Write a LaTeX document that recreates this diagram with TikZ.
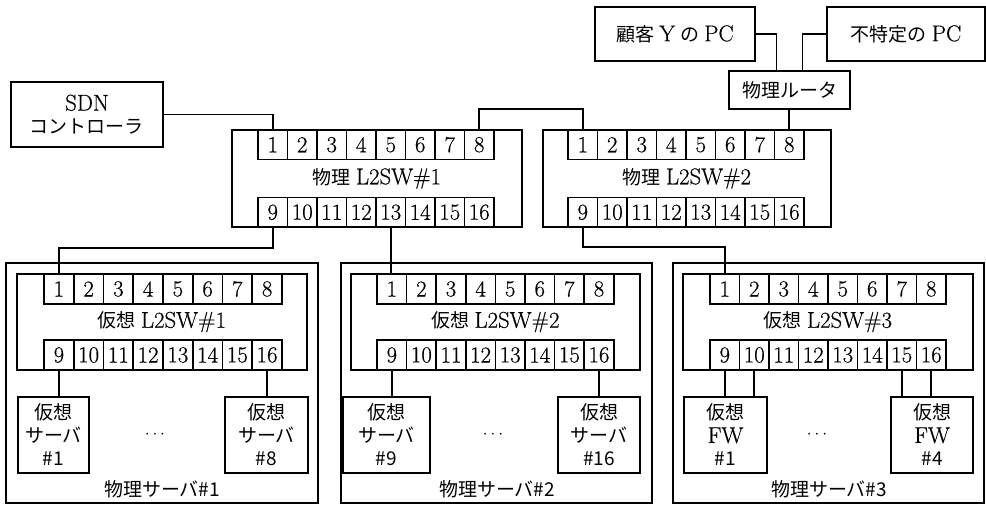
\documentclass[tikz,border=0pt]{standalone}
\usepackage{fontspec}
\setmainfont{Latin Modern Roman}[Scale=1.2, FakeBold=0.5]
\newfontfamily\cjk{Noto Sans CJK JP}
\newcommand\jp[1]{{\cjk #1}}
\newcommand\jsp{\hspace{0.22em}}
\tikzset{
  ln/.style={line width=1.6pt},
  box/.style={draw, line width=1.6pt, inner sep=0pt, outer sep=0pt, anchor=north west},
  port/.style={box, font=\fontsize{19}{19}\selectfont},
  lbl/.style={inner sep=0pt, font=\fontsize{19}{23}\selectfont, align=center},
  tbox/.style={box, lbl, inner sep=0pt},
}
% #1 name, #2 x, #3 y, #4 w, #5 h, #6 port x0, #7 port w, #8 port h, #9 label
\newcommand\drawswitch[9]{%
  \node[box, minimum width=#4pt, minimum height=#5pt] (#1) at (#2,#3) {};
  \node[lbl] (#1lbl) at (#1.center) {#9};
  \foreach \i in {1,...,8} {
    \node[port, minimum width=#7pt, minimum height=#8pt] (#1p\i) at ({#6+(\i-1)*#7},#3) {\i};
  }
  \foreach \i [evaluate=\i as \k using int(\i+8)] in {1,...,8} {
    \node[port, anchor=south west, minimum width=#7pt, minimum height=#8pt] (#1p\k) at ({#6+(\i-1)*#7},{#3+#5}) {\k};
  }
}
\begin{document}
\begin{tikzpicture}[x=1pt,y=-1pt]
\useasboundingbox (0,0) rectangle (986,505);

% top boxes
\node[tbox, minimum width=152pt, minimum height=65pt] (sdn) at (11,82) {SDN\\\jp{コントローラ}};
\node[tbox, minimum width=160pt, minimum height=54pt] (ypc) at (595,7) {\jp{顧客}\jsp Y\jsp\jp{の}\jsp PC};
\node[tbox, minimum width=158pt, minimum height=54pt] (upc) at (827,7) {\jp{不特定の}\jsp PC};
\node[tbox, minimum width=121pt, minimum height=38pt] (router) at (729,71) {\jp{物理ルータ}};

% physical switches
\drawswitch{swa}{232}{130}{290}{97}{258}{29.5}{29.5}{\jp{物理}\jsp L2SW\#1}
\drawswitch{swb}{543}{130}{288}{97}{568}{29.5}{29.5}{\jp{物理}\jsp L2SW\#2}

% physical servers
\node[box, minimum width=312pt, minimum height=240pt] (psa) at (6,263) {};
\node[box, minimum width=311pt, minimum height=240pt] (psb) at (341,263) {};
\node[box, minimum width=311pt, minimum height=240pt] (psc) at (673,263) {};
\node[lbl] (psalbl) at (162,489) {\jp{物理サーバ\#1}};
\node[lbl] (psblbl) at (497,489) {\jp{物理サーバ\#2}};
\node[lbl] (psclbl) at (829,489) {\jp{物理サーバ\#3}};

% virtual switches
\drawswitch{vsa}{17}{274}{290}{96}{44}{29.75}{30}{\jp{仮想}\jsp L2SW\#1}
\drawswitch{vsb}{351}{274}{289}{96}{377}{29.6}{30}{\jp{仮想}\jsp L2SW\#2}
\drawswitch{vsc}{683}{274}{290}{96}{710}{29.5}{30}{\jp{仮想}\jsp L2SW\#3}

% virtual servers / FWs
\node[tbox, minimum width=71pt, minimum height=76pt] (vs1) at (18,397) {\jp{仮想}\\\jp{サーバ}\\\jp{\#1}};
\node[tbox, minimum width=83pt, minimum height=76pt] (vs8) at (225,397) {\jp{仮想}\\\jp{サーバ}\\\jp{\#8}};
\node[tbox, minimum width=87pt, minimum height=76pt] (vs9) at (343,397) {\jp{仮想}\\\jp{サーバ}\\\jp{\#9}};
\node[tbox, minimum width=82pt, minimum height=76pt] (vs16) at (558,397) {\jp{仮想}\\\jp{サーバ}\\\jp{\#16}};
\node[tbox, minimum width=83pt, minimum height=76pt] (fw1) at (684,397) {\jp{仮想}\\FW\\\jp{\#1}};
\node[tbox, minimum width=82pt, minimum height=76pt] (fw4) at (891,397) {\jp{仮想}\\FW\\\jp{\#4}};

\node[lbl] (dotsa) at (155,435) {$\cdots$};
\node[lbl] (dotsb) at (493,435) {$\cdots$};
\node[lbl] (dotsc) at (817,435) {$\cdots$};

% connectors
\draw[ln] (sdn.east) -| (swap1.north);
\draw[ln] (swap8.north) -- ++(0,-21) -| (swbp1.north);
\draw[ln] (swbp8.north) -- (swbp8.north |- router.south);
\draw[ln] (ypc.east) -| ([xshift=-13pt]router.north);
\draw[ln] (upc.west) -| ([xshift=13pt]router.north);
\draw[ln] (swap9.south) -- ++(0,21) -| (vsap1.north);
\draw[ln] (swap13.south) -- (swap13.south |- vsbp1.north);
\draw[ln] (swbp9.south) -- ++(0,20) -| (vscp1.north);

\draw[ln] (vsap9.south) -- (vsap9.south |- vs1.north);
\draw[ln] (vsap16.south) -- (vsap16.south |- vs8.north);
\draw[ln] (vsbp9.south) -- (vsbp9.south |- vs9.north);
\draw[ln] (vsbp16.south) -- (vsbp16.south |- vs16.north);
\draw[ln] (vscp9.south) -- (vscp9.south |- fw1.north);
\draw[ln] (vscp10.south) -- (vscp10.south |- fw1.north);
\draw[ln] (vscp15.south) -- (vscp15.south |- fw4.north);
\draw[ln] (vscp16.south) -- (vscp16.south |- fw4.north);
\end{tikzpicture}
\end{document}
